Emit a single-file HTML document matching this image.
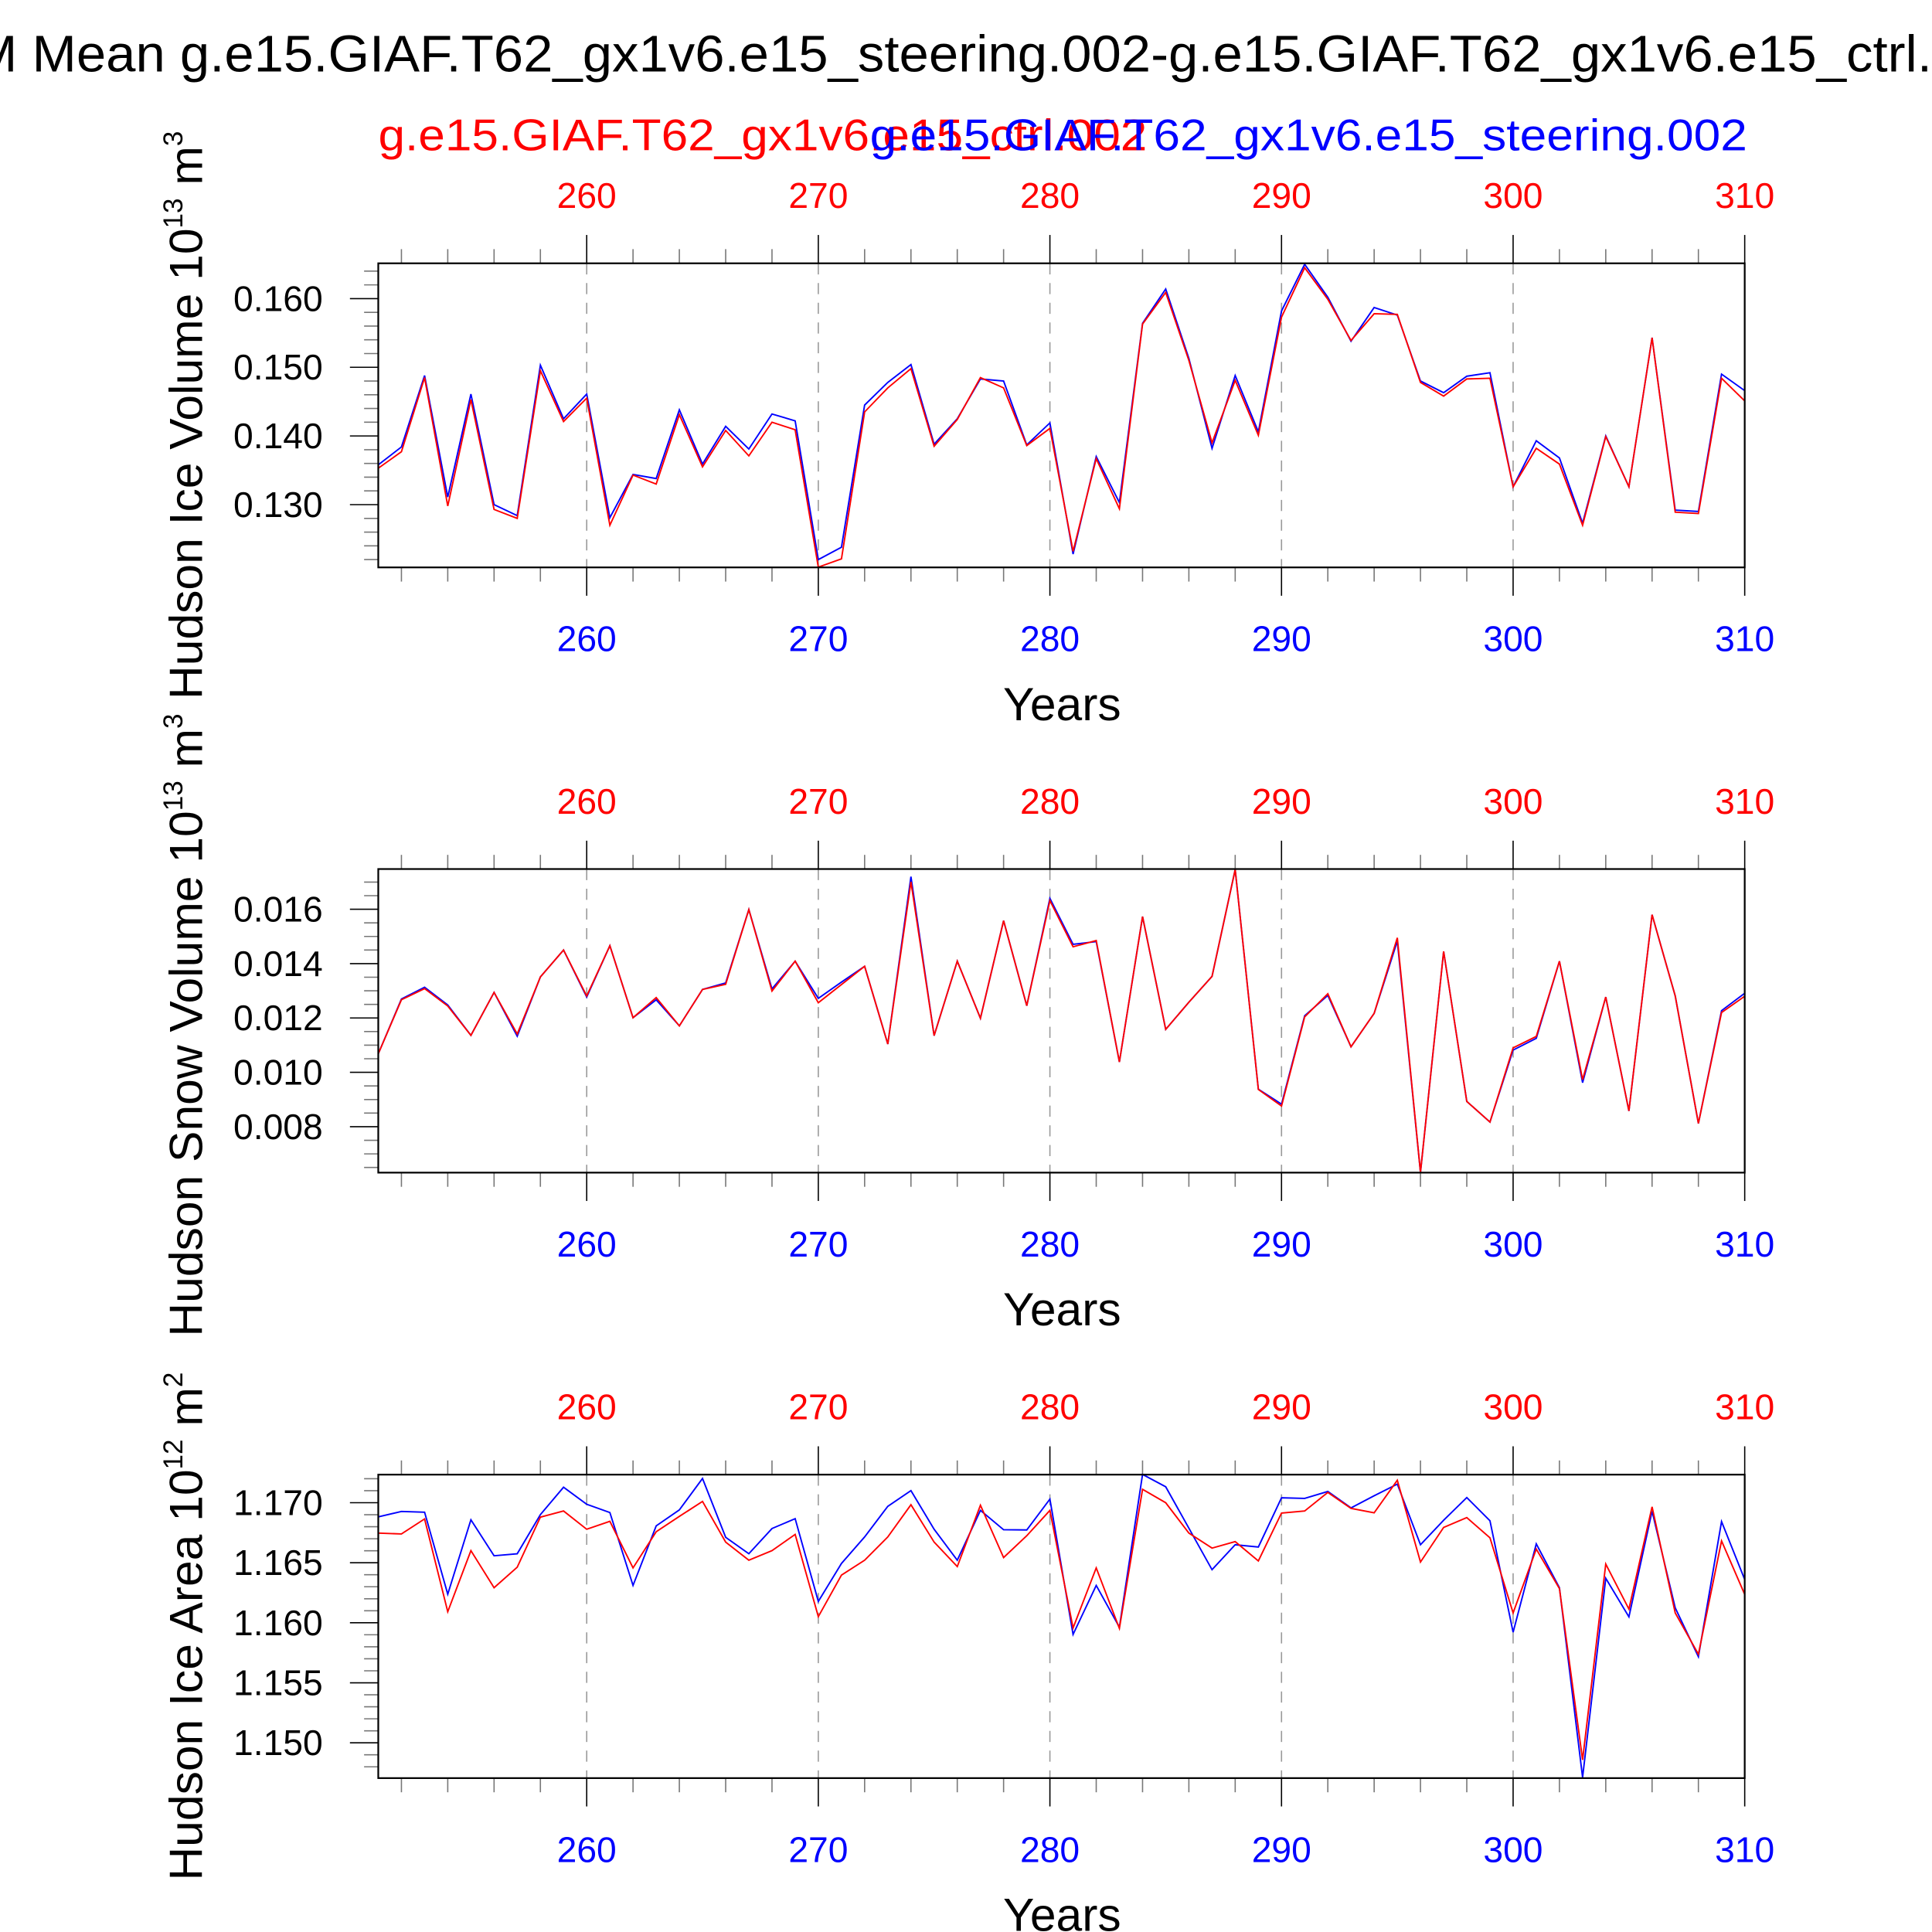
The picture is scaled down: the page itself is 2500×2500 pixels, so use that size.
<!DOCTYPE html>
<html><head><meta charset="utf-8"><style>
html,body{margin:0;padding:0;background:#fff;}
svg{display:block;}
text{font-family:"Liberation Sans",Arial,sans-serif;}
</style></head><body>
<svg id="chart" width="2500" height="2500" viewBox="0 0 1568 1568" xmlns="http://www.w3.org/2000/svg">
<rect x="0" y="0" width="1568" height="1568" fill="#fff"/>
<text x="-22" y="58" font-size="42" fill="#000" textLength="1590" lengthAdjust="spacingAndGlyphs">M Mean g.e15.GIAF.T62_gx1v6.e15_steering.002-g.e15.GIAF.T62_gx1v6.e15_ctrl.</text>
<text x="307" y="122" font-size="36" fill="#ff0000" textLength="624" lengthAdjust="spacingAndGlyphs">g.e15.GIAF.T62_gx1v6.e15_ctrl.002</text>
<text x="706" y="122" font-size="36" fill="#0000ff" textLength="712" lengthAdjust="spacingAndGlyphs">g.e15.GIAF.T62_gx1v6.e15_steering.002</text>
<g id="plots"></g>
</svg>
<script>
const years = [251,252,253,254,255,256,257,258,259,260,261,262,263,264,265,266,267,268,269,270,271,272,273,274,275,276,277,278,279,280,281,282,283,284,285,286,287,288,289,290,291,292,293,294,295,296,297,298,299,300,301,302,303,304,305,306,307,308,309,310];
const xTicks = [260,270,280,290,300,310];

const iceVolSteering = [0.1358,0.1384,0.1488,0.1311,0.1461,0.1300,0.1284,0.1503,0.1425,0.1461,0.1281,0.1344,0.1338,0.1438,0.1359,0.1414,0.1381,0.1432,0.1422,0.1220,0.1238,0.1445,0.1478,0.1504,0.1388,0.1425,0.1483,0.1480,0.1387,0.1419,
0.1228,0.1370,0.1303,0.1564,0.1614,0.1513,0.1382,0.1488,0.1406,0.1582,0.1650,0.1602,0.1538,0.1587,0.1576,0.1480,0.1463,0.1487,0.1492,0.1326,0.1393,0.1368,0.1273,0.1400,0.1326,0.1543,0.1292,0.1290,0.1490,0.1466];
const iceVolCtrl = [0.1353,0.1377,0.1485,0.1298,0.1453,0.1293,0.1280,0.1495,0.1421,0.1455,0.1270,0.1343,0.1330,0.1431,0.1355,0.1408,0.1371,0.1420,0.1409,0.1209,0.1221,0.1435,0.1470,0.1498,0.1385,0.1424,0.1485,0.1470,0.1386,0.1411,
0.1232,0.1367,0.1294,0.1563,0.1609,0.1510,0.1390,0.1481,0.1401,0.1573,0.1645,0.1599,0.1539,0.1578,0.1577,0.1478,0.1458,0.1483,0.1484,0.1326,0.1382,0.1359,0.1270,0.1399,0.1326,0.1543,0.1289,0.1287,0.1484,0.1451];
const iceVolTicks = [0.130,0.140,0.150,0.160];
const iceVolTickLabels = ["0.130","0.140","0.150","0.160"];

const snowSteering = [0.01068,0.01270,0.01313,0.01248,0.01136,0.01294,0.01133,0.01351,0.01450,0.01277,0.01466,0.01201,0.01267,0.01171,0.01305,0.01329,0.01599,0.01307,0.01409,0.01272,0.01332,0.01390,0.01104,0.01720,0.01135,0.01409,0.01199,0.01558,0.01245,0.01640,
0.01471,0.01481,0.01038,0.01573,0.01158,0.01258,0.01353,0.01746,0.00938,0.00883,0.01208,0.01283,0.01094,0.01217,0.01483,0.00632,0.01445,0.00893,0.00817,0.01082,0.01125,0.01409,0.00962,0.01277,0.00858,0.01580,0.01281,0.00812,0.01227,0.01291];
const snowCtrl = [0.01068,0.01267,0.01308,0.01244,0.01136,0.01294,0.01141,0.01351,0.01450,0.01281,0.01466,0.01201,0.01275,0.01171,0.01305,0.01324,0.01599,0.01299,0.01409,0.01256,0.01323,0.01390,0.01104,0.01701,0.01135,0.01409,0.01199,0.01558,0.01245,0.01632,
0.01462,0.01485,0.01038,0.01573,0.01158,0.01258,0.01353,0.01746,0.00937,0.00876,0.01204,0.01289,0.01094,0.01217,0.01495,0.00632,0.01445,0.00893,0.00817,0.01090,0.01132,0.01409,0.00973,0.01277,0.00858,0.01580,0.01281,0.00812,0.01220,0.01280];
const snowTicks = [0.008,0.010,0.012,0.014,0.016];
const snowTickLabels = ["0.008","0.010","0.012","0.014","0.016"];

const areaSteering = [1.16882,1.16927,1.16921,1.16238,1.16858,1.16558,1.16575,1.16901,1.17129,1.16987,1.16918,1.16311,1.16807,1.16940,1.17202,1.16712,1.16575,1.16785,1.16867,1.16178,1.16494,1.16715,1.16970,1.17101,1.16779,1.16521,1.16936,1.16775,1.16773,1.17030,
1.15903,1.16311,1.15963,1.17236,1.17133,1.16788,1.16442,1.16650,1.16631,1.17041,1.17036,1.17094,1.16957,1.17058,1.17155,1.16650,1.16854,1.17043,1.16850,1.15921,1.16657,1.16292,1.14712,1.16371,1.16049,1.16929,1.16124,1.15717,1.16843,1.16360];
const areaCtrl = [1.16747,1.16740,1.16865,1.16092,1.16601,1.16292,1.16463,1.16880,1.16931,1.16779,1.16845,1.16457,1.16758,1.16886,1.17011,1.16672,1.16521,1.16601,1.16736,1.16051,1.16397,1.16521,1.16715,1.16983,1.16672,1.16468,1.16979,1.16543,1.16725,1.16936,
1.15957,1.16457,1.15953,1.17112,1.17000,1.16747,1.16622,1.16676,1.16515,1.16914,1.16931,1.17086,1.16953,1.16916,1.17187,1.16506,1.16794,1.16876,1.16708,1.16082,1.16614,1.16285,1.14858,1.16489,1.16114,1.16966,1.16082,1.15738,1.16682,1.16236];
const areaTicks = [1.150,1.155,1.160,1.165,1.170];
const areaTickLabels = ["1.150","1.155","1.160","1.165","1.170"];

const NS = "http://www.w3.org/2000/svg";
const root = document.getElementById("plots");
const X0 = 307, X1 = 1416, XMIN = 251, XMAX = 310;
function xScale(v){ return X0 + (v - XMIN) / (XMAX - XMIN) * (X1 - X0); }
function mk(tag, attrs, parent){
  const e = document.createElementNS(NS, tag);
  for (const k in attrs) e.setAttribute(k, attrs[k]);
  (parent || root).appendChild(e);
  return e;
}

function drawPlot(cfg){
  const g = mk("g", {});
  
  
  const T = cfg.top, B = cfg.bottom;
  const yScale = v => B - (v - cfg.ymin) / (cfg.ymax - cfg.ymin) * (B - T);
  xTicks.forEach(t => {
    if (t >= XMAX) return;
    const l = mk("line", {x1: xScale(t), x2: xScale(t), y1: T, y2: B, stroke: "#999", "stroke-width": 1, "stroke-dasharray": "9,7"}, g);
    
    
  });
  for (let yr = 252; yr <= XMAX; yr += 2) {
    const major = (yr % 10 === 0);
    const len = major ? 23 : 11.5;
    const col = major ? "#000" : "#777";
    const t1 = mk("line", {x1: xScale(yr), x2: xScale(yr), y1: T, y2: T - len, stroke: col, "stroke-width": 1}, g);
    
    
    const t2 = mk("line", {x1: xScale(yr), x2: xScale(yr), y1: B, y2: B + len, stroke: col, "stroke-width": 1}, g);
    
    
  }
  xTicks.forEach(t => {
    const a = mk("text", {x: xScale(t), y: T - 45, "font-size": 29, fill: "#ff0000", "text-anchor": "middle"}, g);
    a.textContent = t;
    
    
    const b = mk("text", {x: xScale(t), y: B + 68, "font-size": 29, fill: "#0000ff", "text-anchor": "middle"}, g);
    b.textContent = t;
    
    
  });
  const xt = mk("text", {x: 862, y: B + 124, "font-size": 38, fill: "#000", "text-anchor": "middle"}, g);
  xt.textContent = "Years";
  
  
  const step = cfg.minor;
  const start = Math.ceil(cfg.ymin / step - 1e-6);
  for (let i = start; i * step <= cfg.ymax + 1e-9; i++) {
    const v = i * step;
    const y = yScale(v);
    const isMajor = cfg.ticks.some(t => Math.abs(t - v) < step / 10);
    const len = isMajor ? 23 : 11.5;
    const l = mk("line", {x1: X0, x2: X0 - len, y1: y, y2: y, stroke: isMajor ? "#000" : "#777", "stroke-width": 1}, g);
    
    
  }
  cfg.ticks.forEach((t, i) => {
    const tx = mk("text", {x: 262, y: yScale(t) + 10, "font-size": 29, fill: "#000", "text-anchor": "end"}, g);
    tx.textContent = cfg.tickLabels[i];
    
    
  });
  [[cfg.blue, "#0000ff", "series-steering"], [cfg.red, "#ff0000", "series-ctrl"]].forEach(s => {
    const pts = years.map((yr, i) => xScale(yr).toFixed(2) + "," + yScale(s[0][i]).toFixed(2)).join(" ");
    const p = mk("polyline", {points: pts, fill: "none", stroke: s[1], "stroke-width": 1.2, "stroke-linejoin": "miter"}, g);
    
    
  });
  const fr = mk("rect", {x: X0, y: T, width: X1 - X0, height: B - T, fill: "none", stroke: "#000", "stroke-width": 1.4}, g);
  
  
  const yt = mk("text", {transform: "translate(164," + cfg.titleY + ") rotate(-90)", "font-size": 38, fill: "#000", "text-anchor": "middle"}, g);
  
  
  const parts = [[cfg.titleMain + " 10", 0, 38], [cfg.exp1, -16, 22], [" m", 16, 38], [cfg.exp2, -16, 22]];
  parts.forEach(p => {
    const ts = mk("tspan", {dy: p[1], "font-size": p[2]}, yt);
    ts.textContent = p[0];
  });
}

drawPlot({name: "ice-volume-plot", top: 213.7, bottom: 460.5, ymin: 0.12086, ymax: 0.16514, minor: 0.002,
  ticks: iceVolTicks, tickLabels: iceVolTickLabels, red: iceVolCtrl, blue: iceVolSteering,
  titleY: 337, titleMain: "Hudson Ice Volume", exp1: "13", exp2: "3"});
drawPlot({name: "snow-volume-plot", top: 705.3, bottom: 951.7, ymin: 0.00631, ymax: 0.01748, minor: 0.0005,
  ticks: snowTicks, tickLabels: snowTickLabels, red: snowCtrl, blue: snowSteering,
  titleY: 832, titleMain: "Hudson Snow Volume", exp1: "13", exp2: "3"});
drawPlot({name: "ice-area-plot", top: 1196.8, bottom: 1443.1, ymin: 1.14706, ymax: 1.17234, minor: 0.001,
  ticks: areaTicks, tickLabels: areaTickLabels, red: areaCtrl, blue: areaSteering,
  titleY: 1320, titleMain: "Hudson Ice Area", exp1: "12", exp2: "2"});
</script>
</body></html>
